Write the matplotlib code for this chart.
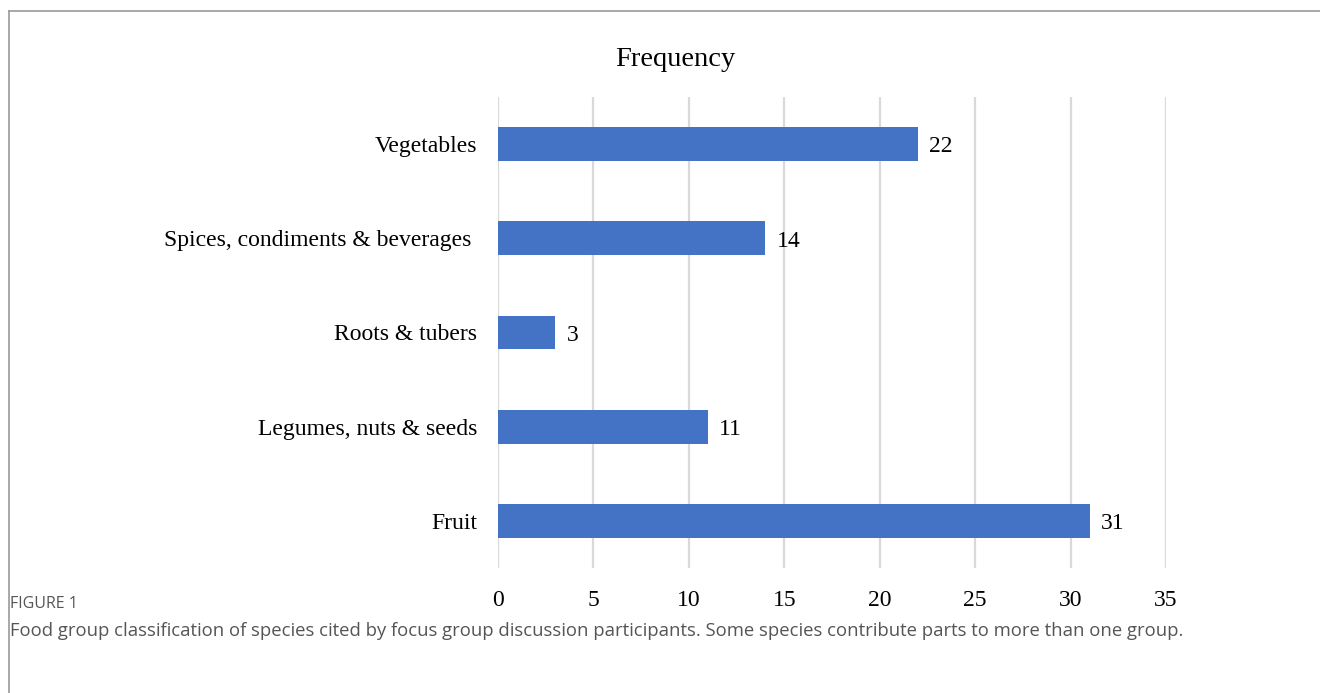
import matplotlib
matplotlib.use("Agg")
import matplotlib.pyplot as plt

categories = ["Vegetables", "Spices, condiments & beverages ", "Roots & tubers",
              "Legumes, nuts & seeds", "Fruit"]
values = [22, 14, 3, 11, 31]
xticks = [0, 5, 10, 15, 20, 25, 30, 35]

fig = plt.figure(figsize=(13.2, 6.93), dpi=100)
serif = ["Liberation Serif", "DejaVu Serif"]
fs = 17

# outer frame (left + top edges)
fig.add_artist(plt.Line2D([9/1320, 9/1320], [0, 1 - 11/693], transform=fig.transFigure,
                          color="#9a9a9a", lw=1.2))
fig.add_artist(plt.Line2D([9/1320, 1], [1 - 11/693, 1 - 11/693], transform=fig.transFigure,
                          color="#9a9a9a", lw=1.2))

ax = fig.add_axes([498/1320, 1 - 568/693, (1166 - 498)/1320, (568 - 97)/693])
y = list(range(len(categories)))
ax.barh(y, values, height=0.36, color="#4472C4", zorder=3)
ax.set_ylim(len(categories) - 0.5, -0.5)
ax.set_xlim(0, 35)
ax.set_xticks(xticks)
ax.set_xticklabels([str(t) for t in xticks], fontfamily=serif, fontsize=fs)
ax.set_yticks(y)
ax.set_yticklabels(categories, fontfamily=serif, fontsize=fs)
ax.tick_params(axis="both", length=0)
ax.tick_params(axis="x", pad=15.5)
ax.tick_params(axis="y", pad=15)
for s in ax.spines.values():
    s.set_visible(False)
ax.grid(axis="x", color="#d9d9d9", lw=1.6, zorder=0)
for yi, v in zip(y, values):
    ax.text(v + 0.6, yi + 0.03, str(v), va="center", ha="left", fontfamily=serif, fontsize=fs)

fig.text(675/1320, 1 - 59/693, "Frequency", ha="center", va="center",
         fontfamily=serif, fontsize=20.5)

fig.text(10/1320, 1 - 604/693, "FIGURE 1", ha="left", va="center",
         fontfamily="Open Sans", fontsize=11.5, color="#555555")
fig.text(10/1320, 1 - 631/693,
         "Food group classification of species cited by focus group discussion participants. Some species contribute parts to more than one group.",
         ha="left", va="center", fontfamily="Open Sans", fontsize=13.3, color="#555555")

fig.savefig("out.png", dpi=100)
